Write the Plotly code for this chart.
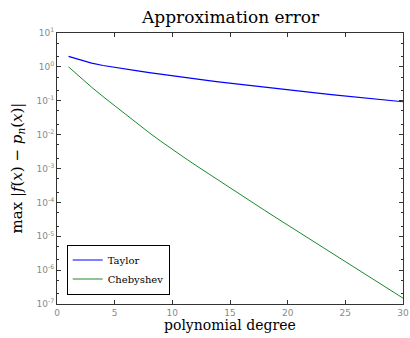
import plotly.graph_objects as go

degrees = list(range(1, 31))
taylor = [2.04, 1.585, 1.288, 1.096, 0.955, 0.851, 0.759, 0.676, 0.603, 0.537,
          0.490, 0.442, 0.398, 0.363, 0.331, 0.302, 0.275, 0.251, 0.226, 0.204,
          0.188, 0.174, 0.162, 0.150, 0.138, 0.127, 0.117, 0.110, 0.101, 0.0933]
chebyshev = [1.0, 0.490, 0.251, 0.132, 0.0708, 0.0380, 0.0207, 0.01135, 0.00638, 0.00363,
             2.14e-3, 1.26e-3, 7.48e-4, 4.46e-4, 2.67e-4, 1.60e-4, 9.64e-5, 5.82e-5, 3.52e-5, 2.14e-5,
             1.30e-5, 7.87e-6, 4.79e-6, 2.91e-6, 1.77e-6, 1.08e-6, 6.56e-7, 3.99e-7, 2.44e-7, 1.49e-7]
x_ticks = [0, 5, 10, 15, 20, 25, 30]
y_tickvals = [1e-7, 1e-6, 1e-5, 1e-4, 1e-3, 1e-2, 1e-1, 1e0, 1e1]
y_ticktext = ["10<sup>-7</sup>", "10<sup>-6</sup>", "10<sup>-5</sup>", "10<sup>-4</sup>",
              "10<sup>-3</sup>", "10<sup>-2</sup>", "10<sup>-1</sup>", "10<sup>0</sup>", "10<sup>1</sup>"]

serif = "DejaVu Serif"
tickfont = dict(family="DejaVu Sans", size=9, color="#8a8a8a")

fig = go.Figure()
fig.add_trace(go.Scatter(x=degrees, y=taylor, mode="lines", name="Taylor",
                         line=dict(color="#0000ff", width=1.2)))
fig.add_trace(go.Scatter(x=degrees, y=chebyshev, mode="lines", name="Chebyshev",
                         line=dict(color="#1a8a2a", width=1)))

fig.update_layout(
    width=410, height=338,
    margin=dict(l=57, r=7, t=33, b=34, autoexpand=False),
    paper_bgcolor="white", plot_bgcolor="white",
    showlegend=True,
    legend=dict(x=0.028, y=0.035, xanchor="left", yanchor="bottom",
                bgcolor="white", bordercolor="black", borderwidth=1,
                font=dict(family=serif, size=10, color="black"),
                tracegroupgap=0, itemwidth=30),
    annotations=[
        dict(text="Approximation error", x=0.5, y=1.0, xref="paper", yref="paper",
             xanchor="center", yanchor="bottom", yshift=4, showarrow=False,
             font=dict(family=serif, size=17, color="black")),
        dict(text="polynomial degree", x=0.5, y=0.0, xref="paper", yref="paper",
             xanchor="center", yanchor="top", yshift=-11, showarrow=False,
             font=dict(family=serif, size=14, color="black")),
        dict(text="max |<i>f</i>(<i>x</i>) − <i>p<sub>n</sub></i>(<i>x</i>)|", x=0.0, y=0.5,
             xref="paper", yref="paper", xanchor="center", yanchor="middle", xshift=-40,
             textangle=-90, showarrow=False,
             font=dict(family=serif, size=15, color="black")),
    ],
)
fig.update_xaxes(
    range=[0, 30], tickvals=x_ticks, ticks="inside", ticklen=4, tickcolor="#333",
    showline=True, linecolor="#333", linewidth=1, mirror="ticks", showgrid=False, zeroline=False,
    tickfont=tickfont, automargin=False,
)
fig.update_yaxes(
    type="log", range=[-7, 1], tickvals=y_tickvals, ticktext=y_ticktext,
    ticks="inside", ticklen=4, tickcolor="#333",
    minor=dict(ticks="inside", ticklen=2, tickcolor="#333", showgrid=False),
    showline=True, linecolor="#333", linewidth=1, mirror="ticks", showgrid=False, zeroline=False,
    tickfont=tickfont, automargin=False,
)

fig.write_html("out.html", config={"displayModeBar": False},
               post_script="document.body.style.margin='0';")
